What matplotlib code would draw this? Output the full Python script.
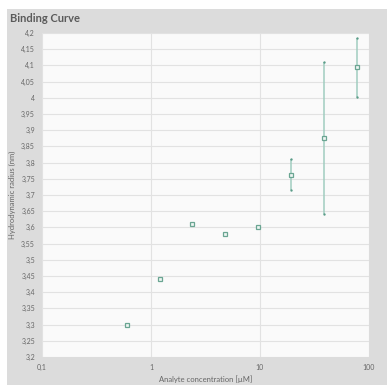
import numpy as np
import matplotlib.pyplot as plt
from matplotlib.patches import Rectangle
from matplotlib.ticker import FixedLocator, FuncFormatter, NullLocator

# data
concentration = [0.6, 1.2, 2.4, 4.8, 9.6, 19.2, 38.4, 76.8]
radius = [3.30, 3.44, 3.61, 3.58, 3.60, 3.763, 3.875, 4.094]
radius_err = [0, 0, 0, 0, 0, 0.048, 0.235, 0.092]

y_ticks = np.round(np.arange(3.2, 4.2001, 0.05), 2)
x_ticks = [0.1, 1, 10, 100]

plt.rcParams['font.family'] = ['Lato', 'DejaVu Sans']

fig = plt.figure(figsize=(3.87, 3.85), dpi=100)
fig.patch.set_facecolor('white')
# gray card behind the chart
card = Rectangle((7 / 387, 0), 1 - 7 / 387, 376 / 385,
                 transform=fig.transFigure, facecolor='#dcdcdc',
                 edgecolor='none', zorder=-10)
fig.add_artist(card)
fig.text(10 / 387, 1 - 19 / 385, 'Binding Curve', fontsize=8, fontweight='bold',
         color='#5a5a5a', va='center', ha='left')

ax = fig.add_axes([42 / 387, 28 / 385, 327 / 387, 324 / 385])
ax.set_facecolor('#fafafa')
for s in ax.spines.values():
    s.set_visible(False)

ax.set_xscale('log')
ax.set_xlim(0.1, 100)
ax.set_ylim(3.2, 4.2)
ax.xaxis.set_major_locator(FixedLocator(x_ticks))
ax.xaxis.set_minor_locator(NullLocator())
ax.yaxis.set_major_locator(FixedLocator(y_ticks))


def comma(v, pos):
    s = ('%.2f' % v).rstrip('0').rstrip('.')
    return s.replace('.', ',')


ax.xaxis.set_major_formatter(FuncFormatter(comma))
ax.yaxis.set_major_formatter(FuncFormatter(comma))
ax.tick_params(length=0, labelsize=5, colors='#666666', pad=5)
ax.grid(True, color='#e2e2e2', linewidth=0.8)
ax.set_axisbelow(True)

ax.set_xlabel('Analyte concentration [µM]', fontsize=5.5, color='#666666', labelpad=3)
ax.set_ylabel('Hydrodynamic radius (nm)', fontsize=5.5, color='#666666', labelpad=4)

conc = np.array(concentration)
rad = np.array(radius)
err = np.array(radius_err)
m = err > 0
ax.errorbar(conc[m], rad[m], yerr=err[m], fmt='none', ecolor='#9ccbbd',
            elinewidth=1.3, capsize=0, alpha=0.8, zorder=2)
ax.plot(conc[m], rad[m] + err[m], 'o', ms=1.7, color='#5a9c88', mec='none', zorder=3)
ax.plot(conc[m], rad[m] - err[m], 'o', ms=1.7, color='#5a9c88', mec='none', zorder=3)
ax.plot(conc, rad, 's', ms=3.5, mfc='#eef6f3', mec='#6aa592', mew=0.9,
        linestyle='none', zorder=4)

fig.savefig('out.png', dpi=100)
